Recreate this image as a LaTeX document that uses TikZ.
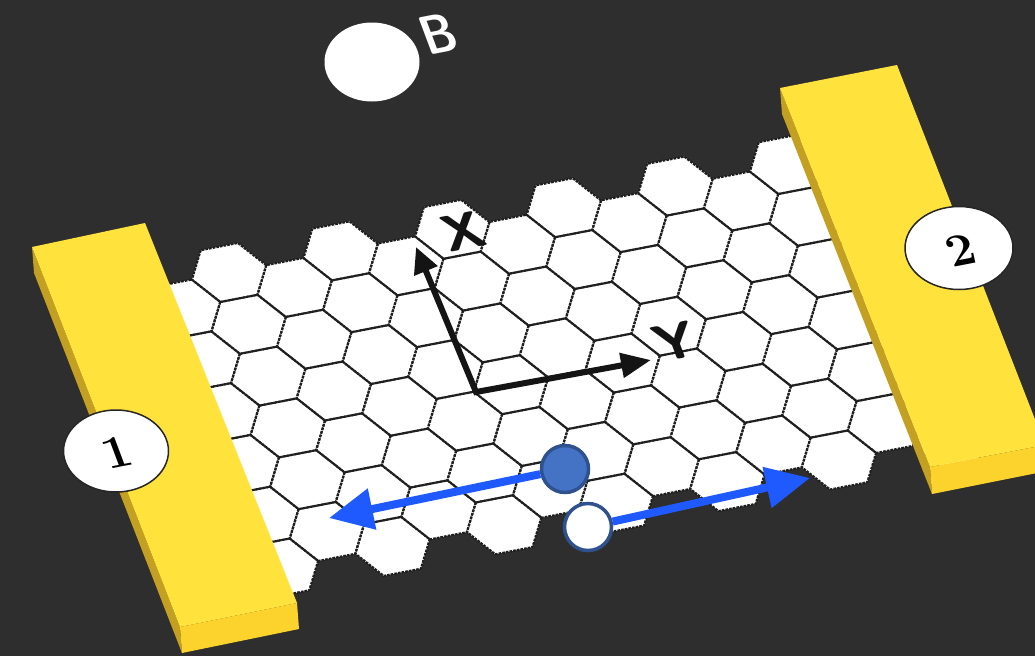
\documentclass[tikz,border=0pt]{standalone}
\usepackage{fontspec}
\usetikzlibrary{arrows.meta,shapes.geometric}

\definecolor{bg}{RGB}{46,46,46}
\definecolor{goldtop}{RGB}{255,227,60}
\definecolor{goldside}{RGB}{196,160,34}
\definecolor{goldfront}{RGB}{252,210,44}
\definecolor{edgegray}{RGB}{30,30,30}
\definecolor{axisblack}{RGB}{20,20,20}
\definecolor{arrowblue}{RGB}{30,90,255}
\definecolor{dotblue}{RGB}{68,114,196}
\definecolor{dotrim}{RGB}{47,82,143}

\tikzset{
  hexfill/.style={fill=white},
  hexedge/.style={draw=edgegray, line width=2.1pt, dash pattern=on 2.6pt off 1.1pt, line join=round},
  axis/.style={draw=axisblack, line width=6pt, line join=miter,
    {Triangle[length=26pt,width=24pt]}-{Triangle[length=30pt,width=24pt]}},
  motion/.style={draw=arrowblue, line width=8pt, -{Triangle[length=44pt,width=40pt]}},
  tag/.style={ellipse, fill=white, draw=black!85, line width=1.5pt, inner sep=0pt},
  planetext/.style={transform shape, inner sep=0pt},
  dot/.style={circle, draw=dotrim, line width=3.5pt, minimum size=47pt, inner sep=0pt},
  bigdigit/.style={font=\fontsize{50}{50}\selectfont\bfseries, text=black},
  axislabel/.style={font=\fontsize{56}{56}\selectfont\sffamily\bfseries, text=axisblack},
}

\begin{document}
\begin{tikzpicture}[x=1pt,y=-1pt]
\useasboundingbox (0,0) rectangle (1035,656);
\fill[bg] (0,0) rectangle (1035,656);

% honeycomb sheet, drawn in the tilted plane of the device
\begin{scope}[shift={(475pt,-395pt)}, x={(37.2pt,7.2pt)}, y={(-11.3pt,29.9pt)}]
  \foreach \i in {-5,...,8}{
    \pgfmathsetmacro\u{-0.5+1.5*\i}
    \pgfmathsetmacro\vlow{mod(abs(\i),2)==1 ? -3.36 : -4.22}
    \foreach \k in {0,...,5}{
      \pgfmathsetmacro\v{\vlow+1.7320508*\k}
      \fill[hexfill] (\u,\v) +(1,0) -- +(0.5,0.866) -- +(-0.5,0.866) -- +(-1,0)
        -- +(-0.5,-0.866) -- +(0.5,-0.866) -- cycle;
    }
  }
  \foreach \i in {-5,...,8}{
    \pgfmathsetmacro\u{-0.5+1.5*\i}
    \pgfmathsetmacro\vlow{mod(abs(\i),2)==1 ? -3.36 : -4.22}
    \foreach \k in {0,...,5}{
      \pgfmathsetmacro\v{\vlow+1.7320508*\k}
      \draw[hexedge] (\u,\v) +(1,0) -- +(0.5,0.866) -- +(-0.5,0.866) -- +(-1,0)
        -- +(-0.5,-0.866) -- +(0.5,-0.866) -- cycle;
    }
  }
\end{scope}

% electrode 1
\fill[goldside]  (32,247) -- (180,627) -- (182,653) -- (34,273) -- cycle;
\fill[goldfront] (180,627) -- (297,603) -- (299,629) -- (182,653) -- cycle;
\fill[goldtop]   (32,247) -- (145,223) -- (297,603) -- (180,627) -- cycle;

% electrode 2
\fill[goldside]  (780,88) -- (930,467) -- (932,494) -- (782,114) -- cycle;
\fill[goldfront] (930,467) -- (1045,445) -- (1047,471) -- (932,494) -- cycle;
\fill[goldtop]   (780,88) -- (897,65) -- (1045,445) -- (930,467) -- cycle;

% in-plane axes
\coordinate (O) at (476,392);
\coordinate (Xtip) at (416,247);
\coordinate (Ytip) at (651,360);
\draw[axis] (Xtip) -- (O) -- (Ytip);
\begin{scope}[shift={(463,231)}, cm={0.98,0.19,-0.33,0.88,(0,0)}]
  \node[planetext, axislabel] (xlab) {X};
\end{scope}
\begin{scope}[shift={(675,341)}, cm={0.98,0.19,-0.33,0.88,(0,0)}]
  \node[planetext, axislabel] (ylab) {Y};
\end{scope}

% electrode tags
\node[tag, minimum width=105pt, minimum height=82pt] (tag1) at (116,451) {};
\begin{scope}[shift={(117,452)}, cm={0.98,0.19,-0.33,0.88,(0,0)}]
  \node[planetext, bigdigit] (num1) {1};
\end{scope}
\node[tag, minimum width=108pt, minimum height=83pt] (tag2) at (959,248) {};
\begin{scope}[shift={(961,250)}, cm={0.98,0.19,-0.33,0.88,(0,0)}]
  \node[planetext, bigdigit] (num2) {2};
\end{scope}

% magnetic field marker
\node[ellipse, fill=white, minimum width=95pt, minimum height=79pt, inner sep=0pt] (field) at (372,62) {};
\begin{scope}[shift={(438,34)}, cm={0.98,0.19,-0.33,0.88,(0,0)}]
  \node[planetext, font=\fontsize{60}{60}\selectfont\sffamily\bfseries, text=white, xscale=0.78] (blab) {B};
\end{scope}

% carriers and their motion
\node[dot, fill=dotblue] (electron) at (565,469) {};
\node[dot, fill=white] (hole) at (588,527) {};
\coordinate (Ltip) at (329,518);
\coordinate (Rtip) at (810,478);
\draw[motion] (electron) -- (Ltip);
\draw[motion] (hole) -- (Rtip);
\end{tikzpicture}
\end{document}
